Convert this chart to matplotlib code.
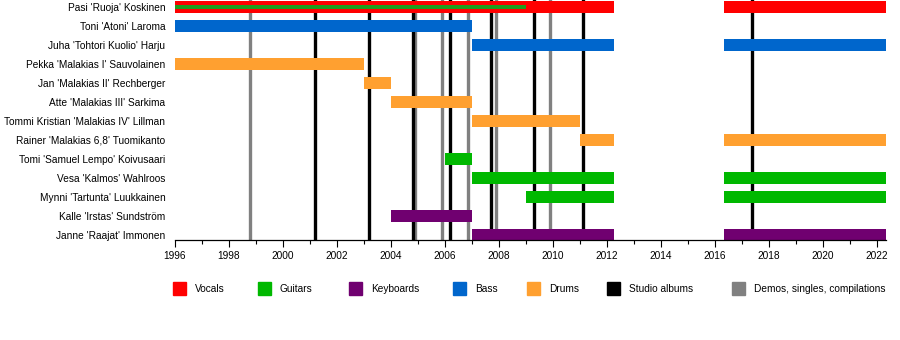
import matplotlib
matplotlib.use("Agg")
import matplotlib.pyplot as plt
from matplotlib.patches import Rectangle

plt.rcParams['font.family'] = ['Liberation Sans', 'DejaVu Sans']

# band members, top to bottom
members = [
    "Pasi 'Ruoja' Koskinen",
    "Toni 'Atoni' Laroma",
    "Juha 'Tohtori Kuolio' Harju",
    "Pekka 'Malakias I' Sauvolainen",
    "Jan 'Malakias II' Rechberger",
    "Atte 'Malakias III' Sarkima",
    "Tommi Kristian 'Malakias IV' Lillman",
    "Rainer 'Malakias 6,8' Tuomikanto",
    "Tomi 'Samuel Lempo' Koivusaari",
    "Vesa 'Kalmos' Wahlroos",
    "Mynni 'Tartunta' Luukkainen",
    "Kalle 'Irstas' Sundström",
    "Janne 'Raajat' Immonen",
]

start_year = 1996.0
end_year = 2022.33
break_start = 2012.26
break_end = 2016.33

# (member index, start, end)
vocals = [(0, start_year, break_start), (0, break_end, end_year)]
guitars = [(8, 2006.0, 2007.0),
           (9, 2007.0, break_start), (9, break_end, end_year),
           (10, 2009.0, break_start), (10, break_end, end_year)]
keyboards = [(11, 2004.0, 2007.0),
             (12, 2007.0, break_start), (12, break_end, end_year)]
bass = [(1, start_year, 2007.0),
        (2, 2007.0, break_start), (2, break_end, end_year)]
drums = [(3, start_year, 2003.0),
         (4, 2003.0, 2004.0),
         (5, 2004.0, 2007.0),
         (6, 2007.0, 2011.0),
         (7, 2011.0, break_start), (7, break_end, end_year)]
# secondary role drawn as a thin line inside the main bar
pasi_guitar = [(0, start_year, 2009.0)]

studio_albums = [2001.2, 2003.2, 2004.8, 2006.2, 2007.7, 2009.3, 2011.1, 2017.35]
demos = [1998.77, 2004.9, 2005.9, 2006.86, 2007.9, 2009.9]

colors = {
    'Vocals': '#ff0000',
    'Guitars': '#00b800',
    'Keyboards': '#700070',
    'Bass': '#0066cc',
    'Drums': '#ffa030',
    'Studio albums': '#000000',
    'Demos, singles, compilations': '#808080',
}

fs = 7.3

fig = plt.figure(figsize=(9, 3.4), dpi=100)
ax = fig.add_axes([175 / 900, 1 - 240 / 340, 711 / 900, 240 / 340])

# release lines behind the bars
for x in demos:
    ax.axvline(x, color=colors['Demos, singles, compilations'], lw=2.4, zorder=1)
for x in studio_albums:
    ax.axvline(x, color=colors['Studio albums'], lw=2.4, zorder=1)

bar_h = 0.63
for role, stints in [('Vocals', vocals), ('Guitars', guitars), ('Keyboards', keyboards),
                     ('Bass', bass), ('Drums', drums)]:
    for row, s, e in stints:
        ax.barh(row, e - s, left=s, height=bar_h, color=colors[role], zorder=2)
for row, s, e in pasi_guitar:
    ax.barh(row, e - s, left=s, height=0.2, color='#1e9e1e', zorder=3)

ax.set_xlim(start_year, end_year)
ax.set_ylim(12 + 5.5 / 19, -7 / 19)
ax.set_yticks(range(len(members)))
ax.set_yticklabels(members, fontsize=fs)
ax.tick_params(axis='y', length=0, pad=7)
ax.set_xticks(range(1996, 2023, 2))
ax.set_xticks(range(1996, 2023), minor=True)
ax.tick_params(axis='x', which='major', length=5, width=0.8, labelsize=fs, pad=3)
ax.tick_params(axis='x', which='minor', length=3, width=0.8)
for side in ['top', 'right', 'left']:
    ax.spines[side].set_visible(False)
ax.spines['bottom'].set_linewidth(0.9)

# legend row below the timeline
legend_pos = [173, 258, 349, 453, 527, 607, 732]
for (label, c), x in zip(colors.items(), legend_pos):
    fig.patches.append(Rectangle((x / 900, 1 - 295 / 340), 13 / 900, 13 / 340,
                                 transform=fig.transFigure, color=c))
    fig.text((x + 22) / 900, 1 - 289.5 / 340, label, fontsize=fs, va='center', ha='left')

fig.savefig('out.png', dpi=100)
